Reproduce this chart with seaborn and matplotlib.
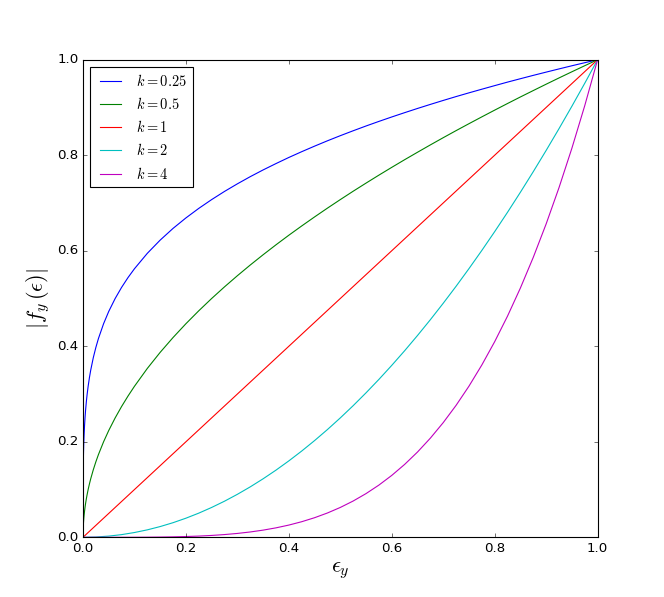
import numpy as np
import pandas as pd
import seaborn as sns
import matplotlib
matplotlib.use("Agg")
import matplotlib.pyplot as plt

# points; the concave ones need extra samples near 0
eps_c = [0, 0.0001, 0.0003, 0.0006, 0.001, 0.0015, 0.002, 0.003, 0.004, 0.005,
         0.0065, 0.008, 0.01, 0.0125, 0.015, 0.02, 0.025, 0.03, 0.04, 0.05,
         0.0625, 0.075, 0.0875,
         0.1, 0.125, 0.15, 0.175, 0.2, 0.225, 0.25, 0.275, 0.3, 0.325, 0.35,
         0.375, 0.4, 0.425, 0.45, 0.475, 0.5, 0.525, 0.55, 0.575, 0.6, 0.625,
         0.65, 0.675, 0.7, 0.725, 0.75, 0.775, 0.8, 0.825, 0.85, 0.875, 0.9,
         0.925, 0.95, 0.975, 1.0]

f_k025 = [0, 0.100, 0.1316, 0.1565, 0.1778, 0.1968, 0.2115, 0.2340, 0.2515, 0.2659,
          0.2839, 0.2991, 0.3162, 0.3344, 0.3500, 0.3761, 0.3976, 0.4162, 0.4472,
          0.4729, 0.5000, 0.5233, 0.5439,
          0.5623, 0.5946, 0.6223, 0.6468, 0.6687, 0.6887, 0.7071, 0.7242, 0.7401,
          0.7551, 0.7692, 0.7825, 0.7953, 0.8074, 0.8190, 0.8302, 0.8409, 0.8512,
          0.8612, 0.8708, 0.8801, 0.8891, 0.8979, 0.9064, 0.9147, 0.9228, 0.9306,
          0.9382, 0.9457, 0.9531, 0.9602, 0.9672, 0.9740, 0.9807, 0.9873, 0.9937,
          1.0]
f_k05 = [0, 0.0100, 0.0173, 0.0245, 0.0316, 0.0387, 0.0447, 0.0548, 0.0632, 0.0707,
         0.0806, 0.0894, 0.1000, 0.1118, 0.1225, 0.1414, 0.1581, 0.1732, 0.2000,
         0.2236, 0.2500, 0.2739, 0.2958,
         0.3162, 0.3536, 0.3873, 0.4183, 0.4472, 0.4743, 0.5000, 0.5244, 0.5477,
         0.5701, 0.5916, 0.6124, 0.6325, 0.6519, 0.6708, 0.6892, 0.7071, 0.7246,
         0.7416, 0.7583, 0.7746, 0.7906, 0.8062, 0.8216, 0.8367, 0.8515, 0.8660,
         0.8803, 0.8944, 0.9083, 0.9220, 0.9354, 0.9487, 0.9618, 0.9747, 0.9874,
         1.0]

eps_v = [0, 0.025, 0.05, 0.075, 0.1, 0.125, 0.15, 0.175, 0.2, 0.225, 0.25, 0.275,
         0.3, 0.325, 0.35, 0.375, 0.4, 0.425, 0.45, 0.475, 0.5, 0.525, 0.55,
         0.575, 0.6, 0.625, 0.65, 0.675, 0.7, 0.725, 0.75, 0.775, 0.8, 0.825,
         0.85, 0.875, 0.9, 0.925, 0.95, 0.975, 1.0]

f_k1 = [0, 0.025, 0.05, 0.075, 0.1, 0.125, 0.15, 0.175, 0.2, 0.225, 0.25, 0.275,
        0.3, 0.325, 0.35, 0.375, 0.4, 0.425, 0.45, 0.475, 0.5, 0.525, 0.55,
        0.575, 0.6, 0.625, 0.65, 0.675, 0.7, 0.725, 0.75, 0.775, 0.8, 0.825,
        0.85, 0.875, 0.9, 0.925, 0.95, 0.975, 1.0]
f_k2 = [0, 0.0006, 0.0025, 0.0056, 0.0100, 0.0156, 0.0225, 0.0306, 0.0400, 0.0506,
        0.0625, 0.0756, 0.0900, 0.1056, 0.1225, 0.1406, 0.1600, 0.1806, 0.2025,
        0.2256, 0.2500, 0.2756, 0.3025, 0.3306, 0.3600, 0.3906, 0.4225, 0.4556,
        0.4900, 0.5256, 0.5625, 0.6006, 0.6400, 0.6806, 0.7225, 0.7656, 0.8100,
        0.8556, 0.9025, 0.9506, 1.0]
f_k4 = [0, 0, 0.00001, 0.00003, 0.0001, 0.00024, 0.00051, 0.00094, 0.0016, 0.00256,
        0.0039, 0.00572, 0.0081, 0.01116, 0.01501, 0.01978, 0.0256, 0.03263,
        0.04101, 0.05091, 0.0625, 0.07597, 0.09151, 0.10931, 0.1296, 0.15259,
        0.17851, 0.20759, 0.2401, 0.27628, 0.31641, 0.36075, 0.4096, 0.46325,
        0.52201, 0.58618, 0.6561, 0.7321, 0.81451, 0.90369, 1.0]

labels = ['$k=0.25$', '$k=0.5$', '$k=1$', '$k=2$', '$k=4$']
xs = [eps_c, eps_c, eps_v, eps_v, eps_v]
series = [f_k025, f_k05, f_k1, f_k2, f_k4]

df = pd.concat([pd.DataFrame({'eps': x, 'f': s, 'k': lab})
                for lab, x, s in zip(labels, xs, series)], ignore_index=True)

plt.style.use('classic')
plt.rcParams['mathtext.fontset'] = 'cm'
plt.rcParams['font.family'] = ['DejaVu Sans']

fig = plt.figure(figsize=(8.3, 7.4625), dpi=80)
ax = fig.add_subplot(111)

sns.lineplot(data=df, x='eps', y='f', hue='k', hue_order=labels,
             palette=['b', 'g', 'r', 'c', 'm'], estimator=None, sort=False,
             linewidth=1.0, ax=ax)

ax.set_xlim(0, 1)
ax.set_ylim(0, 1)
ax.set_xticks([0.0, 0.2, 0.4, 0.6, 0.8, 1.0])
ax.set_yticks([0.0, 0.2, 0.4, 0.6, 0.8, 1.0])
ax.set_xlabel(r'$\epsilon_y$', fontsize=20)
ax.set_ylabel(r'$|f_y\,(\epsilon)|$', fontsize=20)

handles, labs = ax.get_legend_handles_labels()
ax.legend(handles, labs, loc='upper left', fontsize=13, title=None)

fig.savefig('out.png', dpi=80)
